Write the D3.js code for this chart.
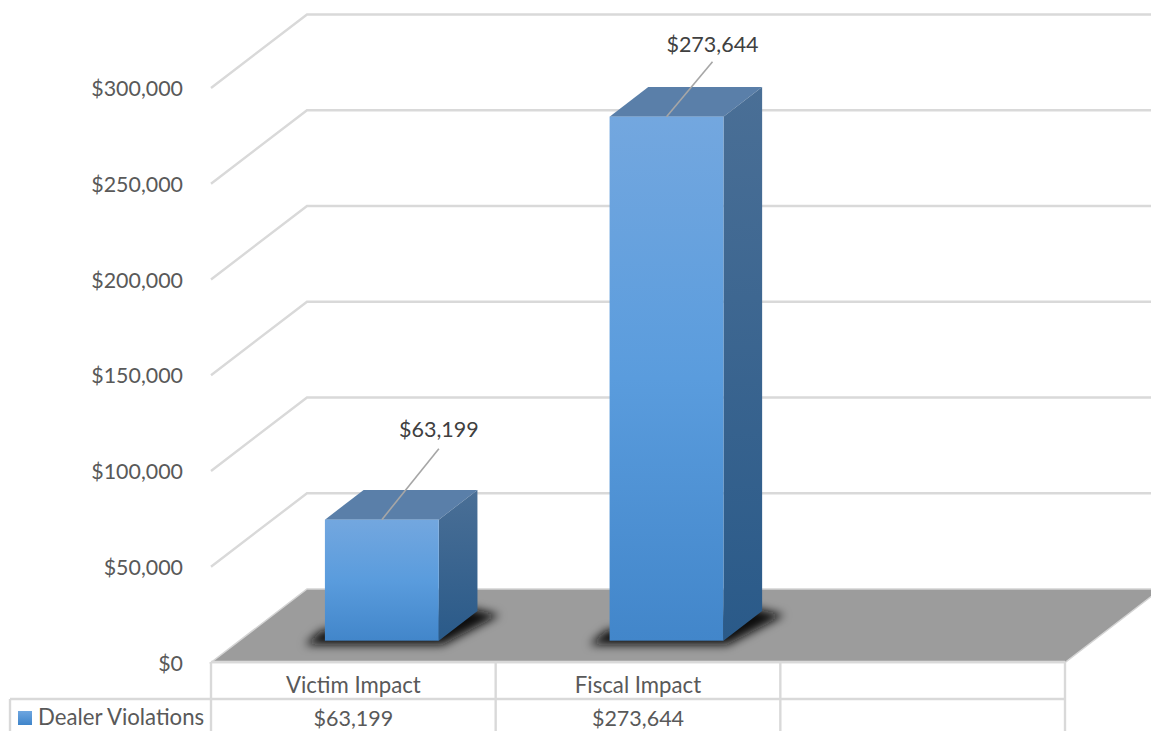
<!DOCTYPE html>
<html><head><meta charset="utf-8">
<script src="https://cdn.jsdelivr.net/npm/d3@7"></script>
<style>html,body{margin:0;padding:0;background:#fff;overflow:hidden}svg{display:block}text{font-family:Lato,"Open Sans",sans-serif}</style>
</head><body>
<svg id="c" width="1151" height="731"></svg>
<script>
const categories = ["Victim Impact", "Fiscal Impact", ""];
const seriesName = "Dealer Violations";
const seriesValues = [63199, 273644, null];
const tickValues = [0, 50000, 100000, 150000, 200000, 250000, 300000];

const svg = d3.select("#c");
const fmt = d3.format("$,.0f");
const W = 1151, H = 731;
const x = d3.scaleBand().domain(categories).range([211, 1065]).paddingInner(0).paddingOuter(0);
const y = d3.scaleLinear().domain([0, 300000]).range([662.5, 88]);
const dxMax = 96, dyMax = -73.5;
const px = (xv, d) => xv + dxMax * d;
const py = (yv, d) => yv + dyMax * d;
const line = d3.line();

const defs = svg.append("defs");
function grad(id, stops) {
  const g = defs.append("linearGradient").attr("id", id).attr("x1", 0).attr("y1", 0).attr("x2", 0).attr("y2", 1);
  stops.forEach(([o, c]) => g.append("stop").attr("offset", o).attr("stop-color", c));
}
grad("front", [[0, "#73a7df"], [0.5, "#5a9cdd"], [1, "#4286ca"]]);
grad("side", [[0, "#4a6f96"], [1, "#2a5a89"]]);
grad("leg", [[0, "#6ea6e0"], [1, "#3f85ca"]]);
defs.append("filter").attr("id", "blur").attr("x", "-30%").attr("y", "-60%").attr("width", "160%").attr("height", "220%")
  .append("feGaussianBlur").attr("stdDeviation", 5);

const gridColor = "#d9d9d9";
const grid = svg.append("g").attr("fill", "none").attr("stroke", gridColor).attr("stroke-width", 2.4);
tickValues.forEach(t => {
  if (t > 0) grid.append("path").attr("d", line([[px(211, 0), py(y(t), 0)], [px(211, 1), py(y(t), 1)], [W + 2, py(y(t), 1)]]));
});

svg.append("path")
  .attr("d", line([[px(211, 0), py(y(0), 0)], [px(1065, 0), py(y(0), 0)], [px(1065, 1), py(y(0), 1)], [px(211, 1), py(y(0), 1)]]) + "Z")
  .attr("fill", "#9c9c9c").attr("stroke", "#d4d4d4").attr("stroke-width", 1.5);

const dFront = 0.297, dBack = 0.70;
const barW = x.bandwidth() * 0.4;
const data = categories.map((c, i) => ({ c, v: seriesValues[i] })).filter(d => d.v != null);
const bx = d => x(d.c) + (x.bandwidth() - barW) / 2;

const shadow = svg.append("g").attr("filter", "url(#blur)");
data.forEach(d => {
  const x0 = bx(d), x1 = x0 + barW;
  shadow.append("path").attr("fill", "#0a0a0a")
    .attr("d", line([[px(x0, dFront) - 20, py(y(0), dFront) + 4], [px(x1, dFront) + 4, py(y(0), dFront) + 4],
      [px(x1, dBack) + 22, py(y(0), dBack) + 4], [px(x1, dBack) - 8, py(y(0), dBack) - 3], [px(x0, dFront) - 4, py(y(0), dFront) - 10]]) + "Z");
});

const leaderRise = [71, 55];
const leaderRun = [57, 46];
const labelGap = [12, 9.5];
const bars = svg.append("g");
data.forEach((d, i) => {
  const x0 = bx(d), x1 = x0 + barW, yt = y(d.v), yb = y(0);
  bars.append("path").attr("fill", "#5a7fa9")
    .attr("d", line([[px(x0, dFront), py(yt, dFront)], [px(x1, dFront), py(yt, dFront)], [px(x1, dBack), py(yt, dBack)], [px(x0, dBack), py(yt, dBack)]]) + "Z");
  bars.append("path").attr("fill", "url(#side)")
    .attr("d", line([[px(x1, dFront), py(yt, dFront)], [px(x1, dBack), py(yt, dBack)], [px(x1, dBack), py(yb, dBack)], [px(x1, dFront), py(yb, dFront)]]) + "Z");
  bars.append("rect").attr("x", px(x0, dFront)).attr("y", py(yt, dFront)).attr("width", barW).attr("height", yb - yt).attr("fill", "url(#front)");
  const lx0 = px(x0, dFront) + barW * 0.5, ly0 = py(yt, dFront);
  const lx1 = lx0 + leaderRun[i], ly1 = ly0 - leaderRise[i];
  bars.append("path").attr("fill", "none").attr("stroke", "#a6a6a6").attr("stroke-width", 1.6)
    .attr("d", line([[lx0, ly0], [lx1, ly1]]));
  bars.append("text").attr("x", lx1).attr("y", ly1 - labelGap[i]).attr("text-anchor", "middle")
    .attr("font-size", 21.5).attr("fill", "#404040").text(fmt(d.v));
});

svg.append("g").selectAll("text").data(tickValues).join("text")
  .attr("x", 183).attr("y", t => y(t) + 8).attr("text-anchor", "end")
  .attr("font-size", 21.4).attr("fill", "#595959").text(t => fmt(t));

const table = svg.append("g").attr("fill", "none").attr("stroke", gridColor).attr("stroke-width", 2.4);
const row1 = 699;
table.append("path").attr("d", line([[10, row1], [1065, row1]]));
table.append("path").attr("d", line([[211, 662], [1065, 662]]));
table.append("path").attr("d", line([[10, row1], [10, H + 2]]));
[211, ...categories.map(c => x(c) + x.bandwidth())].forEach(v =>
  table.append("path").attr("d", line([[v, 662], [v, H + 2]])));

const labels = svg.append("g").attr("text-anchor", "middle").attr("fill", "#595959");
categories.forEach((c, i) => {
  if (!c) return;
  const cx = x(c) + x.bandwidth() / 2;
  labels.append("text").attr("x", cx).attr("y", 693).attr("font-size", 22.2).text(c);
  labels.append("text").attr("x", cx).attr("y", 726).attr("font-size", 21.5).text(fmt(seriesValues[i]));
});
svg.append("rect").attr("x", 18).attr("y", 711).attr("width", 14).attr("height", 14).attr("fill", "url(#leg)");
svg.append("text").attr("x", 38).attr("y", 725).attr("font-size", 22.2).attr("fill", "#595959").text(seriesName);
</script>
</body></html>
